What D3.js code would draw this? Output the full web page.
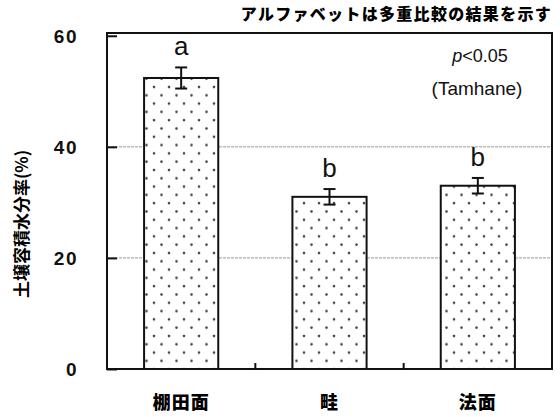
<!DOCTYPE html>
<html><head><meta charset="utf-8">
<script src="https://cdn.jsdelivr.net/npm/d3@7"></script>
<style>
body{margin:0;background:#fff;}
svg{display:block;}
</style></head>
<body>
<svg id="chart" width="560" height="417"></svg>
<script>
// Soil volumetric water content by location
const categories = ["棚田面", "畦", "法面"];
const means = [52.4, 31.0, 33.0];
const errors = [1.9, 1.4, 1.4];
const letters = ["a", "b", "b"];
const yTicks = [0, 20, 40, 60];
const gridTicks = [20, 40];

const svg = d3.select("#chart");
const margin = {left: 107, right: 8, top: 33, bottom: 48};
const W = 560, H = 417;
const x0 = margin.left, x1 = W - margin.right;
const yTop = margin.top, yBot = H - margin.bottom;

const y = d3.scaleLinear().domain([0, 60.5]).range([yBot, yTop]);
const x = d3.scaleBand().domain(categories).range([x0, x1]).paddingInner(0.5).paddingOuter(0.25);

// Dot fill pattern
const defs = svg.append("defs");
const pat = defs.append("pattern").attr("id", "dots").attr("patternUnits", "userSpaceOnUse")
  .attr("width", 15).attr("height", 16.6);
pat.append("rect").attr("width", 15).attr("height", 16.6).attr("fill", "#fff");
pat.append("circle").attr("cx", 4).attr("cy", 4).attr("r", 1.3).attr("fill", "#444");
pat.append("circle").attr("cx", 11.5).attr("cy", 12.3).attr("r", 1.3).attr("fill", "#444");

// gridlines
svg.append("g").selectAll("line").data(gridTicks).join("line")
  .attr("x1", x0).attr("x2", x1)
  .attr("y1", d => y(d)).attr("y2", d => y(d))
  .attr("stroke", "#999").attr("stroke-width", 1).attr("stroke-dasharray", "3,1");

// bars
svg.append("g").selectAll("rect").data(categories).join("rect")
  .attr("x", d => x(d)).attr("width", x.bandwidth())
  .attr("y", (d, i) => y(means[i])).attr("height", (d, i) => yBot - y(means[i]))
  .attr("fill", "url(#dots)").attr("stroke", "#111").attr("stroke-width", 2);

// error bars
const eb = svg.append("g").attr("stroke", "#111").attr("stroke-width", 2);
categories.forEach((c, i) => {
  const cx = x(c) + x.bandwidth() / 2;
  const hi = y(means[i] + errors[i]), lo = y(means[i] - errors[i]);
  eb.append("line").attr("x1", cx).attr("x2", cx).attr("y1", hi).attr("y2", lo);
  eb.append("line").attr("x1", cx - 6).attr("x2", cx + 6).attr("y1", hi).attr("y2", hi);
  eb.append("line").attr("x1", cx - 6).attr("x2", cx + 6).attr("y1", lo).attr("y2", lo);
});

// frame
svg.append("rect").attr("x", x0).attr("y", yTop).attr("width", x1 - x0).attr("height", yBot - yTop)
  .attr("fill", "none").attr("stroke", "#111").attr("stroke-width", 2);

// y axis ticks (inward) and labels
const yAxis = d3.axisRight(y).tickValues(yTicks).tickSize(10).tickFormat(d3.format("d"));
const ya = svg.append("g").attr("transform", `translate(${x0},0)`).call(yAxis);
ya.select(".domain").remove();
ya.selectAll(".tick line").attr("stroke", "#111").attr("stroke-width", 2);
ya.selectAll(".tick text").attr("x", -29).attr("text-anchor", "end").attr("dy", "0.35em")
  .attr("font-family", "Liberation Sans, Arial, sans-serif").attr("font-weight", "bold")
  .attr("font-size", 19).attr("letter-spacing", 1.5).attr("fill", "#111");

// x ticks between categories
const mids = [0, 1].map(i => (x(categories[i]) + x.bandwidth() + x(categories[i + 1])) / 2);
svg.append("g").selectAll("line").data(mids).join("line")
  .attr("x1", d => d).attr("x2", d => d).attr("y1", yBot).attr("y2", yBot - 6)
  .attr("stroke", "#111").attr("stroke-width", 2);

// category labels
svg.append("g").selectAll("text").data(categories).join("text")
  .attr("x", d => x(d) + x.bandwidth() / 2).attr("y", 409)
  .attr("text-anchor", "middle").attr("font-family", "Noto Sans CJK JP")
  .attr("font-weight", "900").attr("font-size", 18).attr("letter-spacing", 1)
  .attr("fill", "#000").text(d => d);

// significance letters
svg.append("g").selectAll("text").data(categories).join("text")
  .attr("x", d => x(d) + x.bandwidth() / 2)
  .attr("y", (d, i) => y(means[i] + errors[i]) - 12)
  .attr("text-anchor", "middle").attr("font-family", "Liberation Sans, Arial, sans-serif")
  .attr("font-size", 26).attr("fill", "#111").text((d, i) => letters[i]);

// annotations
const p = svg.append("text").attr("x", 480).attr("y", 62).attr("text-anchor", "middle")
  .attr("font-family", "Liberation Sans, Arial, sans-serif").attr("font-size", 18).attr("fill", "#111");
p.append("tspan").attr("font-style", "italic").text("p");
p.append("tspan").text("<0.05");
svg.append("text").attr("x", 477).attr("y", 95).attr("text-anchor", "middle")
  .attr("font-family", "Liberation Sans, Arial, sans-serif").attr("font-size", 19).attr("fill", "#111")
  .text("(Tamhane)");

svg.append("text").attr("x", 552).attr("y", 20).attr("text-anchor", "end")
  .attr("font-family", "Noto Sans CJK JP").attr("font-weight", "900").attr("font-size", 16)
  .attr("letter-spacing", 1.3).attr("fill", "#000").text("アルファベットは多重比較の結果を示す");

// y axis title
svg.append("text").attr("transform", `translate(28,${(yTop + yBot) / 2 + 23}) rotate(-90)`)
  .attr("text-anchor", "middle").attr("font-family", "Noto Sans CJK JP").attr("font-weight", "bold")
  .attr("font-size", 17).attr("fill", "#000").text("土壌容積水分率(%)");
</script>
</body></html>
